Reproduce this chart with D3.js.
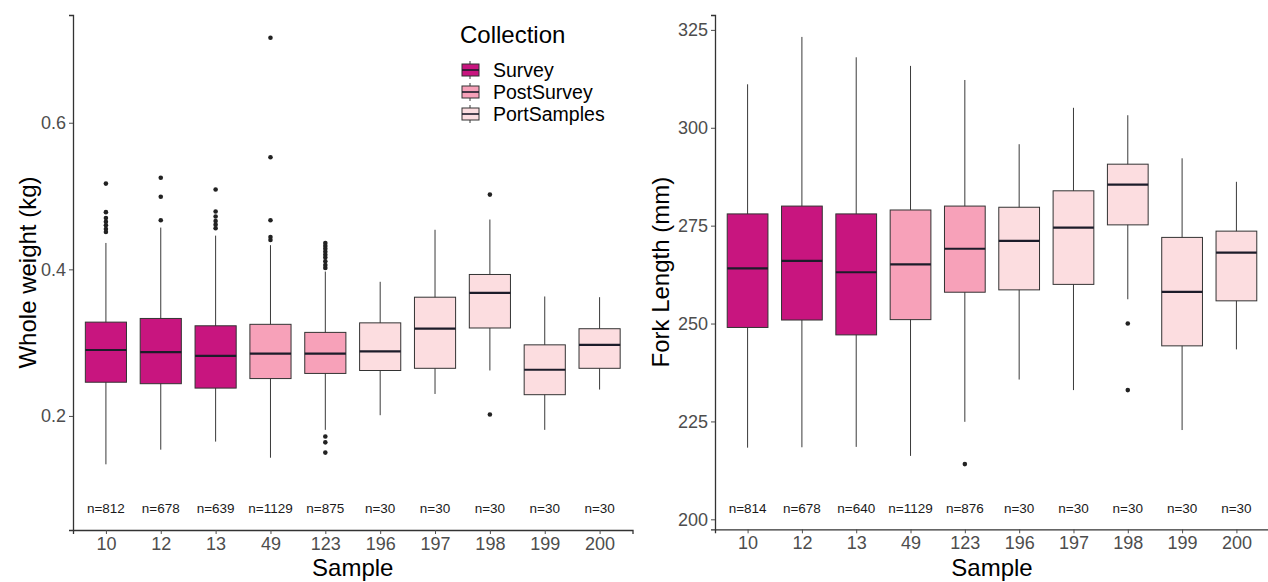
<!DOCTYPE html>
<html>
<head>
<meta charset="utf-8">
<script src="https://cdn.jsdelivr.net/npm/d3@7"></script>
<style>
  body { margin: 0; background: #fff; }
  svg { font-family: 'Liberation Sans', Arial, sans-serif; }
</style>
</head>
<body>
<div id="chart"></div>
<script>

// Categories
var samples = [ '10', '12', '13', '49', '123', '196', '197', '198', '199', '200' ];
var collection = [ 'Survey', 'Survey', 'Survey', 'PostSurvey', 'PostSurvey',
                   'PortSamples', 'PortSamples', 'PortSamples', 'PortSamples', 'PortSamples' ];
var collections = [ 'Survey', 'PostSurvey', 'PortSamples' ];
var collection_colors = [ '#c8157f', '#f7a1b9', '#fcdde0' ];

// Whole weight (kg)
var weight_low    = [ 0.134, 0.154, 0.165, 0.143, 0.181, 0.201, 0.230, 0.262, 0.181, 0.236 ];
var weight_q1     = [ 0.246, 0.244, 0.238, 0.251, 0.258, 0.262, 0.265, 0.320, 0.229, 0.265 ];
var weight_median = [ 0.290, 0.287, 0.282, 0.285, 0.285, 0.288, 0.319, 0.368, 0.263, 0.297 ];
var weight_q3     = [ 0.328, 0.333, 0.323, 0.325, 0.314, 0.327, 0.362, 0.393, 0.297, 0.319 ];
var weight_high   = [ 0.436, 0.457, 0.446, 0.433, 0.397, 0.383, 0.454, 0.468, 0.363, 0.362 ];
var weight_outliers = [
    [ 0.517, 0.478, 0.470, 0.465, 0.460, 0.455, 0.451 ],
    [ 0.525, 0.499, 0.467 ],
    [ 0.509, 0.479, 0.472, 0.466, 0.461, 0.456 ],
    [ 0.716, 0.553, 0.467, 0.444, 0.440 ],
    [ 0.436, 0.432, 0.428, 0.424, 0.420, 0.416, 0.411, 0.406, 0.402, 0.172, 0.164, 0.150 ],
    [],
    [],
    [ 0.502, 0.202 ],
    [],
    []
];
var weight_n = [ 812, 678, 639, 1129, 875, 30, 30, 30, 30, 30 ];

// Fork length (mm)
var length_low    = [ 218.3, 218.4, 218.5, 216.2, 224.9, 235.7, 233.0, 256.2, 222.8, 243.4 ];
var length_q1     = [ 249.0, 250.9, 247.1, 251.0, 258.0, 258.6, 260.0, 275.2, 244.3, 255.8 ];
var length_median = [ 264.1, 266.0, 263.1, 265.1, 269.1, 271.1, 274.5, 285.5, 258.1, 268.1 ];
var length_q3     = [ 278.0, 280.0, 278.0, 279.0, 280.0, 279.7, 283.9, 290.7, 272.0, 273.6 ];
var length_high   = [ 311.1, 323.2, 318.0, 315.8, 312.2, 295.8, 305.1, 303.2, 292.2, 286.2 ];
var length_outliers = [ [], [], [], [], [ 214.1 ], [], [], [ 250.0, 233.0 ], [], [] ];
var length_n = [ 814, 678, 640, 1129, 876, 30, 30, 30, 30, 30 ];

var weight_ticks = [ 0.2, 0.4, 0.6 ];
var length_ticks = [ 200, 225, 250, 275, 300, 325 ];


var svg = d3.select( '#chart' )
            .append( 'svg' )
            .attr( 'width', 1268 )
            .attr( 'height', 582 );

var color = d3.scaleOrdinal().domain( collections ).range( collection_colors );


function Box_Panel ( opts ) {

    // Scoping
    var self = this;

    this.x = d3.scalePoint()
               .domain( samples )
               .range( [ opts.left, opts.right ] )
               .padding( 0.6 );

    this.y = d3.scaleLinear()
               .domain( opts.domain )
               .range( [ opts.bottom, opts.top ] );

    var box_w = self.x.step() * 0.75;

    var g = svg.append( 'g' );

    var data = samples.map( function ( s, i ) {
        return { s: s, c: collection[i], low: opts.low[i], q1: opts.q1[i], med: opts.median[i],
                 q3: opts.q3[i], high: opts.high[i], out: opts.outliers[i], n: opts.n[i] };
    });

    // Axes
    var ax = g.append( 'g' )
              .attr( 'transform', 'translate(0,' + opts.bottom + ')' )
              .call( d3.axisBottom( self.x ).tickSizeOuter( 0 ).tickSize( 4 ).tickPadding( 3 ) );

    var ay = g.append( 'g' )
              .attr( 'transform', 'translate(' + opts.left + ',0)' )
              .call( d3.axisLeft( self.y ).tickValues( opts.ticks ).tickFormat( opts.fmt )
                       .tickSizeOuter( 0 ).tickSize( 4 ).tickPadding( 3 ) );

    [ ax, ay ].forEach( function ( a ) {
        a.select( '.domain' ).attr( 'stroke', '#333' ).attr( 'stroke-width', 1.3 );
        a.selectAll( '.tick line' ).attr( 'stroke', '#4d4d4d' );
        a.selectAll( '.tick text' )
         .attr( 'fill', '#4d4d4d' )
         .style( 'font-size', '18px' )
         .style( 'font-family', "'Liberation Sans', Arial, sans-serif" );
    });

    // Whiskers
    g.selectAll( '.whisker' )
     .data( data ).enter()
     .append( 'line' )
     .attr( 'x1', function ( d ) { return self.x( d.s ); } )
     .attr( 'x2', function ( d ) { return self.x( d.s ); } )
     .attr( 'y1', function ( d ) { return self.y( d.low ); } )
     .attr( 'y2', function ( d ) { return self.y( d.high ); } )
     .attr( 'stroke', '#3a3a3a' )
     .attr( 'stroke-width', 1 );

    // Boxes
    g.selectAll( '.box' )
     .data( data ).enter()
     .append( 'rect' )
     .attr( 'x', function ( d ) { return self.x( d.s ) - box_w / 2; } )
     .attr( 'width', box_w )
     .attr( 'y', function ( d ) { return self.y( d.q3 ); } )
     .attr( 'height', function ( d ) { return self.y( d.q1 ) - self.y( d.q3 ); } )
     .attr( 'fill', function ( d ) { return color( d.c ); } )
     .attr( 'stroke', '#333' )
     .attr( 'stroke-width', 1 );

    // Medians
    g.selectAll( '.median' )
     .data( data ).enter()
     .append( 'line' )
     .attr( 'x1', function ( d ) { return self.x( d.s ) - box_w / 2; } )
     .attr( 'x2', function ( d ) { return self.x( d.s ) + box_w / 2; } )
     .attr( 'y1', function ( d ) { return self.y( d.med ); } )
     .attr( 'y2', function ( d ) { return self.y( d.med ); } )
     .attr( 'stroke', '#1c1c2a' )
     .attr( 'stroke-width', 2.2 );

    // Outliers
    var pts = [];
    data.forEach( function ( d ) {
        d.out.forEach( function ( v ) { pts.push( { s: d.s, v: v } ); } );
    });

    g.selectAll( '.dot' )
     .data( pts ).enter()
     .append( 'circle' )
     .attr( 'cx', function ( d ) { return self.x( d.s ); } )
     .attr( 'cy', function ( d ) { return self.y( d.v ); } )
     .attr( 'r', 2.3 )
     .attr( 'fill', '#222' );

    // Counts
    g.selectAll( '.count' )
     .data( data ).enter()
     .append( 'text' )
     .attr( 'x', function ( d ) { return self.x( d.s ); } )
     .attr( 'y', self.y( opts.label_y ) )
     .attr( 'dy', '0.35em' )
     .attr( 'text-anchor', 'middle' )
     .style( 'font-size', '13.5px' )
     .attr( 'fill', '#1a1a1a' )
     .text( function ( d ) { return 'n=' + d.n; } );

    // Labels
    g.append( 'text' )
     .attr( 'x', ( opts.left + opts.right ) / 2 )
     .attr( 'y', 576 )
     .attr( 'text-anchor', 'middle' )
     .style( 'font-size', '24px' )
     .attr( 'fill', '#000' )
     .text( 'Sample' );

    g.append( 'text' )
     .attr( 'transform', 'translate(' + opts.title_x + ',' + ( opts.top + opts.bottom ) / 2 + ') rotate(-90)' )
     .attr( 'text-anchor', 'middle' )
     .attr( 'dy', '0.35em' )
     .style( 'font-size', '24px' )
     .attr( 'fill', '#000' )
     .text( opts.title );

}


var left_panel = new Box_Panel( {
    left: 73, right: 632.5, top: 15, bottom: 530,
    domain: [ 0.0444, 0.747 ], ticks: weight_ticks, fmt: d3.format( '.1f' ),
    low: weight_low, q1: weight_q1, median: weight_median, q3: weight_q3, high: weight_high,
    outliers: weight_outliers, n: weight_n, label_y: 0.0744,
    title: 'Whole weight (kg)', title_x: 28
} );

var right_panel = new Box_Panel( {
    left: 715, right: 1269, top: 15, bottom: 529.3,
    domain: [ 197.45, 328.8 ], ticks: length_ticks, fmt: d3.format( 'd' ),
    low: length_low, q1: length_q1, median: length_median, q3: length_q3, high: length_high,
    outliers: length_outliers, n: length_n, label_y: 202.9,
    title: 'Fork Length (mm)', title_x: 661
} );


// Legend
var legend = svg.append( 'g' ).attr( 'transform', 'translate(461,0)' );

legend.append( 'text' )
      .attr( 'x', -1 )
      .attr( 'y', 43 )
      .style( 'font-size', '24px' )
      .attr( 'fill', '#000' )
      .text( 'Collection' );

var keys = legend.selectAll( '.key' )
                 .data( collections ).enter()
                 .append( 'g' )
                 .attr( 'transform', function ( d, i ) { return 'translate(0,' + ( 70 + i * 22 ) + ')'; } );

keys.append( 'line' )
    .attr( 'x1', 9 ).attr( 'x2', 9 )
    .attr( 'y1', -9 ).attr( 'y2', 9 )
    .attr( 'stroke', '#3a3a3a' );

keys.append( 'rect' )
    .attr( 'x', 1 )
    .attr( 'y', -6 )
    .attr( 'width', 17 )
    .attr( 'height', 12 )
    .attr( 'fill', function ( d ) { return color( d ); } )
    .attr( 'stroke', '#333' );

keys.append( 'line' )
    .attr( 'x1', 1 ).attr( 'x2', 18 )
    .attr( 'y1', 0 ).attr( 'y2', 0 )
    .attr( 'stroke', '#1c1c2a' )
    .attr( 'stroke-width', 1.6 );

keys.append( 'text' )
    .attr( 'x', 32 )
    .attr( 'y', 0 )
    .attr( 'dy', '0.35em' )
    .style( 'font-size', '19.5px' )
    .attr( 'fill', '#000' )
    .text( function ( d ) { return d; } );

</script>
</body>
</html>
